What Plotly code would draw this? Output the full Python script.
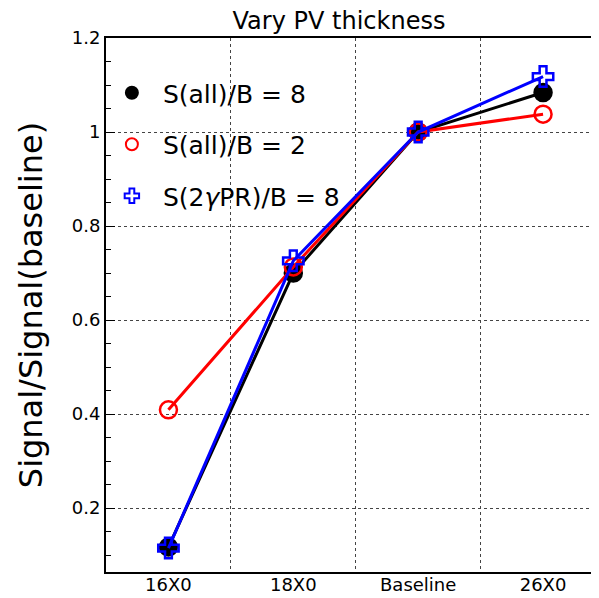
import plotly.graph_objects as go

categories = ["16X0", "18X0", "Baseline", "26X0"]
sall_b8 = [0.117, 0.700, 1.000, 1.084]
sall_b2 = [0.409, 0.713, 1.000, 1.038]
s2g_b8 = [0.115, 0.726, 1.000, 1.118]

names = ["S(all)/B = 8", "S(all)/B = 2", "S(2<i>γ</i>PR)/B = 8"]
colors = ["black", "red", "blue"]
symbols = ["circle", "circle-open", "cross-open"]
series = [sall_b8, sall_b2, s2g_b8]

FONT = "DejaVu Sans"
W, H = 591, 590  # page body adds an 8px margin
fig = go.Figure()

for ys, c, s in zip(series, colors, symbols):
    fig.add_trace(go.Scatter(
        x=categories, y=ys, mode="lines+markers", showlegend=False,
        line=dict(color=c, width=3),
        marker=dict(symbol=s, size=17, color=c, line=dict(color=c, width=2.5)),
    ))

for i, (n, c, s) in enumerate(zip(names, colors, symbols)):
    fig.add_trace(go.Scatter(
        x=[None], y=[None], mode="markers", name=n, legendgroup=f"g{i}",
        marker=dict(symbol=s, size=17, color=c, line=dict(color=c, width=2.5)),
    ))

fig.update_layout(
    width=W, height=H,
    margin=dict(l=98, r=1, t=30, b=26),
    paper_bgcolor="white", plot_bgcolor="white",
    font=dict(family=FONT, color="black"),
    title=dict(text="Vary PV thickness", x=(339 - 8) / W, xanchor="center", y=1 - 13 / H,
               yanchor="middle", font=dict(size=24, family=FONT)),
    legend=dict(x=-0.0104, y=0.94, xanchor="left", yanchor="top",
                bgcolor="rgba(0,0,0,0)", font=dict(size=25, family=FONT),
                tracegroupgap=16, itemsizing="constant", itemwidth=52),
    xaxis=dict(type="category", categoryorder="array", categoryarray=categories,
               range=[-0.5, 3.44], tickson="boundaries", ticks="", automargin=False,
               ticklabelstandoff=-5,
               showgrid=True, gridcolor="#444", griddash="dot", gridwidth=1,
               showline=True, linecolor="black", linewidth=2, mirror=True,
               tickfont=dict(size=18, family=FONT), zeroline=False),
    yaxis=dict(range=[0.064, 1.2], tickvals=[0.2, 0.4, 0.6, 0.8, 1.0, 1.2],
               ticktext=["0.2", "0.4", "0.6", "0.8", "1", "1.2"], automargin=False,
               ticks="inside", ticklen=9, tickcolor="black",
               minor=dict(dtick=0.05, ticks="inside", ticklen=5, tickcolor="black", showgrid=False),
               showgrid=True, gridcolor="#444", griddash="dot", gridwidth=1,
               showline=True, linecolor="black", linewidth=2, mirror=False,
               tickfont=dict(size=18, family=FONT), zeroline=False,
               title=dict(text="Signal/Signal(baseline)", font=dict(size=32, family=FONT), standoff=20)),
)

fig.write_html("out.html")
